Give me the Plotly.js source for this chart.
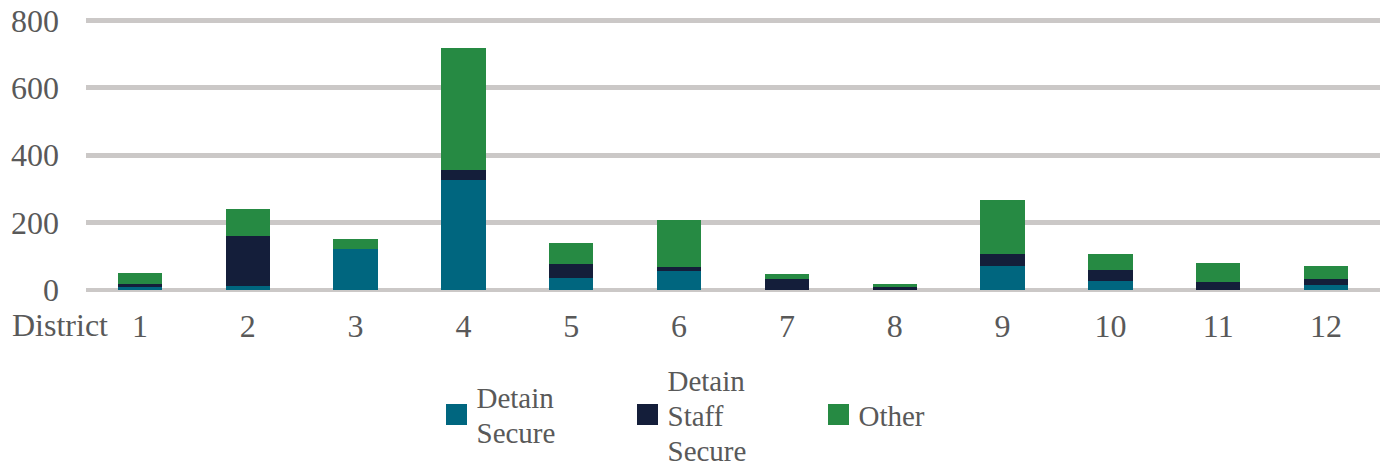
<!DOCTYPE html>
<html>
<head>
<meta charset="utf-8">
<script src="https://cdn.plot.ly/plotly-3.0.1.min.js"></script>
<style>html,body{margin:0;padding:0;background:#fff;}#chart{width:1383px;height:461px;}</style>
</head>
<body>
<div id="chart"></div>
<script>
const districts = ['1','2','3','4','5','6','7','8','9','10','11','12'];
const detainSecure = [8, 12, 122, 326, 36, 56, 0, 0, 71, 27, 0, 16];
const detainStaffSecure = [10, 148, 0, 30, 41, 12, 33, 9, 36, 32, 24, 17];
const other = [32, 80, 29, 362, 62, 140, 15, 9, 160, 48, 55, 38];
const yTicks = [0, 200, 400, 600, 800];

const FONT = 'Liberation Serif, Times New Roman, serif';
const TXT = '#595959';
const LEGEND_SIZE = 29;

const traces = [
  {name: 'Detain<br>Secure', x: districts, y: detainSecure, type: 'bar', marker: {color: '#00667F'}},
  {name: 'Detain<br>Staff<br>Secure', x: districts, y: detainStaffSecure, type: 'bar', marker: {color: '#141E3A'}},
  {name: 'Other', x: districts, y: other, type: 'bar', marker: {color: '#268A43'}}
];

const layout = {
  width: 1383, height: 461,
  margin: {l: 86, r: 3, t: 16.93, b: 171},
  barmode: 'stack',
  bargap: 0.59,
  paper_bgcolor: '#fff', plot_bgcolor: '#fff',
  font: {family: FONT, color: TXT, size: 32},
  showlegend: true,
  hovermode: false,
  xaxis: {
    type: 'category',
    showgrid: false, zeroline: false, showline: false, ticks: '',
    tickfont: {family: FONT, size: 32, color: TXT},
    ticklabelstandoff: 14
  },
  yaxis: {
    range: [0, 810],
    tickvals: yTicks,
    ticktext: yTicks.map(String),
    showgrid: true, gridcolor: '#CBC8C7', gridwidth: 4.7,
    zeroline: true, zerolinecolor: '#CBC8C7', zerolinewidth: 4.7,
    showline: false, ticks: '',
    tickfont: {family: FONT, size: 32, color: TXT},
    ticklabelstandoff: 26
  },
  legend: {
    orientation: 'h',
    xref: 'container', yref: 'container',
    x: 436.5 / 1383, xanchor: 'left',
    y: 1 - 415 / 461, yanchor: 'middle',
    entrywidth: 146, entrywidthmode: 'pixels',
    font: {family: FONT, size: LEGEND_SIZE, color: TXT},
    traceorder: 'normal',
    bgcolor: 'rgba(0,0,0,0)', borderwidth: 0
  },
  annotations: [{
    text: 'District', xref: 'paper', yref: 'paper',
    x: (10 - 86) / 1294, xanchor: 'left',
    y: -(325 - 290) / 273.07, yanchor: 'middle',
    showarrow: false, font: {family: FONT, size: 32, color: TXT}
  }]
};

Plotly.newPlot('chart', traces, layout, {displayModeBar: false, staticPlot: true}).then(function(gd) {
  const lineH = LEGEND_SIZE * 1.3;
  const maxLines = 3;
  gd.querySelectorAll('.legend .traces').forEach(function(g) {
    g.querySelectorAll('.legendpoints path').forEach(function(p) {
      const t = p.getAttribute('transform') || '';
      p.setAttribute('transform', t + ' scale(1.75)');
    });
    const tspans = g.querySelectorAll('.legendtext tspan.line');
    const lines = Math.max(1, tspans.length);
    tspans.forEach(function(t) {
      const dy = t.getAttribute('dy');
      if (dy && dy.indexOf('em') > 0) {
        const v = parseFloat(dy);
        if (v) t.setAttribute('dy', (v * 1.2 / 1.3) + 'em');
      }
    });
    const txt = g.querySelector('.legendtext');
    if (txt && lines > 1) {
      const y0 = parseFloat(txt.getAttribute('y') || '0');
      const ny = y0 + (lines - 1) * 0.05 * LEGEND_SIZE;
      txt.setAttribute('y', ny);
      tspans.forEach(function(t) { if (t.hasAttribute('y')) t.setAttribute('y', ny); });
    }
    const tr = g.getAttribute('transform') || '';
    const m = tr.match(/translate\(\s*([-\d.e]+)[ ,]+([-\d.e]+)\s*\)/);
    if (m) {
      const x = parseFloat(m[1]);
      const y = parseFloat(m[2]) + (maxLines - lines) * lineH / 2;
      g.setAttribute('transform', 'translate(' + x + ',' + y + ')');
    }
  });
});
</script>
</body>
</html>
